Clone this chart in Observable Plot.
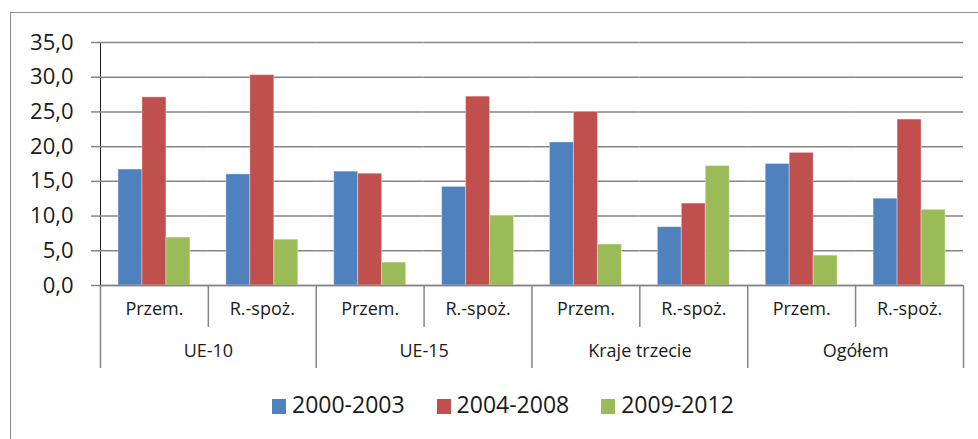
<!DOCTYPE html>
<html>
<head>
<meta charset="utf-8">
<script src="https://cdn.jsdelivr.net/npm/d3@7"></script>
<script src="https://cdn.jsdelivr.net/npm/@observablehq/plot@0.6"></script>
<style>
  html, body { margin: 0; padding: 0; background: #fff; }
  #chart { position: relative; width: 978px; height: 439px; overflow: hidden; background: #fff; font-family: "Open Sans", sans-serif; color: #1a1a1a; }
  #frame { position: absolute; left: 10px; top: 12px; width: 1000px; height: 500px; border: 1px solid #8c8c8c; box-sizing: border-box; }
  #plot { position: absolute; left: 0; top: 0; }
  #plot svg g[aria-label^="y-axis"] line, #plot svg g[aria-label^="y-axis"] path { stroke: #868686; stroke-opacity: 1; stroke-width: 1.5px; }
  #legend { position: absolute; left: 272px; top: 390px; height: 28px; display: flex; align-items: center; font-size: 23px; line-height: 28px; }
  #legend .item { display: flex; align-items: center; margin-right: 32px; }
  #legend .sw { width: 14px; height: 15px; margin-right: 6px; position: relative; top: 2px; }
</style>
</head>
<body>
<div id="chart">
  <div id="frame"></div>
  <div id="plot"></div>
  <div id="legend"></div>
</div>
<script>
// ---- data ----
const groups = ["UE-10", "UE-15", "Kraje trzecie", "Ogółem"];
const subcats = ["Przem.", "R.-spoż."];
const series = ["2000-2003", "2004-2008", "2009-2012"];
const colors = ["#4F81BD", "#C0504D", "#9BBB59"];
// values in order: UE-10 Przem., UE-10 R.-spoż., UE-15 Przem., UE-15 R.-spoż., Kraje Przem., Kraje R.-spoż., Ogółem Przem., Ogółem R.-spoż.
const v2000_2003 = [16.7, 16.0, 16.4, 14.2, 20.6, 8.4, 17.5, 12.5];
const v2004_2008 = [27.1, 30.3, 16.1, 27.2, 25.0, 11.8, 19.1, 23.9];
const v2009_2012 = [6.9, 6.6, 3.3, 10.0, 5.9, 17.2, 4.3, 10.9];
const yTicks = [0, 5, 10, 15, 20, 25, 30, 35];

// ---- build tables ----
const seriesValues = [v2000_2003, v2004_2008, v2009_2012];
const cats = [];
groups.forEach((g, gi) => subcats.forEach((s, si) => cats.push({key: g + "|" + s, group: g, sub: s, gi, si})));
const keys = cats.map(c => c.key);
const rows = [];
cats.forEach((c, ci) => series.forEach((s, k) => rows.push({key: c.key, series: s, value: seriesValues[k][ci]})));
const groupStarts = cats.filter(c => c.si === 0);
const subStarts = cats.filter(c => c.si > 0);
const lastCat = [cats[cats.length - 1]];

const gray = "#868686";
const fmt = d => d.toFixed(1).replace(".", ",");

const chart = Plot.plot({
  width: 978,
  height: 380,
  marginLeft: 100,
  marginRight: 15,
  marginTop: 42,
  marginBottom: 95,
  style: {fontFamily: "Open Sans", fontSize: "22px", color: "#1a1a1a", background: "transparent", overflow: "visible"},
  fx: {domain: keys, padding: 0, round: false, axis: null},
  x: {domain: series, paddingInner: 0, paddingOuter: 0.75, round: false, axis: null},
  y: {domain: [0, 35], ticks: yTicks, tickFormat: fmt, tickSize: 9, tickPadding: 18, line: true, label: null},
  color: {domain: series, range: colors},
  marks: [
    Plot.ruleY(yTicks, {stroke: gray, strokeWidth: 1.5}),
    Plot.barY(rows, {fx: "key", x: "series", y: "value", fill: "series", stroke: "#fff", strokeOpacity: 0.35, strokeWidth: 1}),
    Plot.ruleY([0], {stroke: gray, strokeWidth: 1.5}),
    // category separators
    Plot.ruleX(groupStarts, {fx: "key", x: () => series[0], dx: -30, y1: 0, y2: 0, insetBottom: -83, stroke: gray, strokeWidth: 1.5}),
    Plot.ruleX(subStarts, {fx: "key", x: () => series[0], dx: -30, y1: 0, y2: 0, insetBottom: -42, stroke: gray, strokeWidth: 1.5}),
    Plot.ruleX(lastCat, {fx: "key", x: () => series[2], dx: 30, y1: 0, y2: 0, insetBottom: -83, stroke: gray, strokeWidth: 1.5}),
    // labels
    Plot.text(cats, {fx: "key", text: "sub", frameAnchor: "bottom", dy: 29, fontSize: 18, fill: "#1a1a1a"}),
    Plot.text(groupStarts, {fx: "key", text: "group", frameAnchor: "bottom-right", textAnchor: "middle", dy: 71, fontSize: 18, fill: "#1a1a1a"})
  ]
});
document.getElementById("plot").appendChild(chart);

// legend
const legend = document.getElementById("legend");
series.forEach((s, i) => {
  const item = document.createElement("div");
  item.className = "item";
  const sw = document.createElement("div");
  sw.className = "sw";
  sw.style.background = colors[i];
  const t = document.createElement("span");
  t.textContent = s;
  item.appendChild(sw);
  item.appendChild(t);
  legend.appendChild(item);
});
</script>
</body>
</html>
